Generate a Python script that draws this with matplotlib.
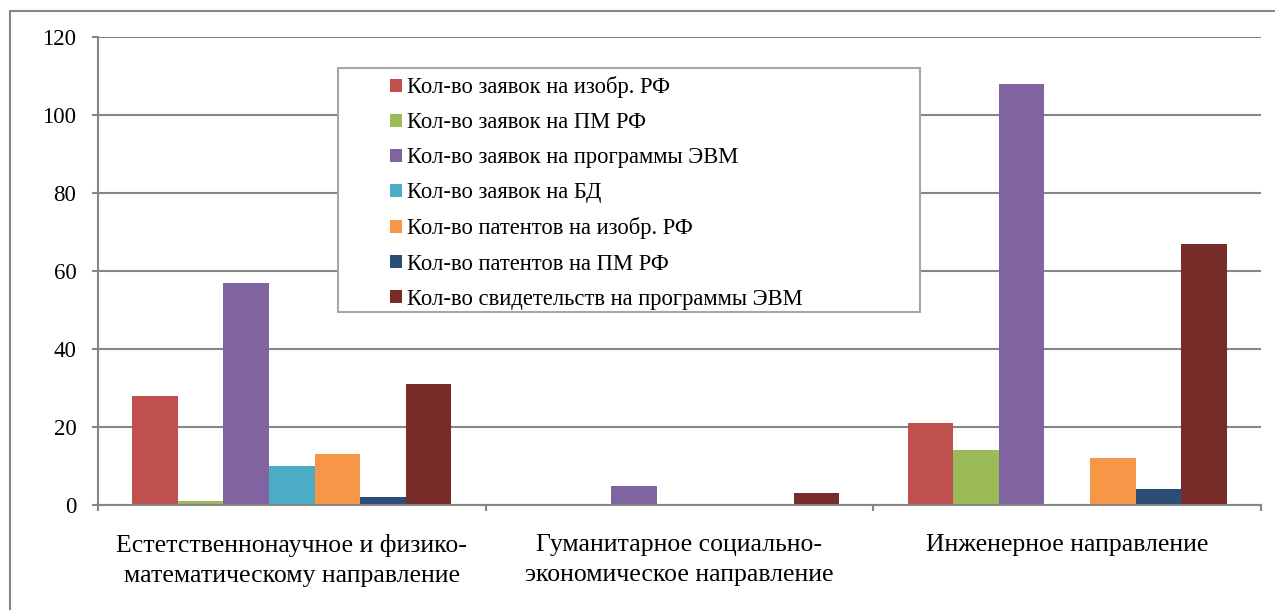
import numpy as np
from matplotlib import pyplot as plt
from matplotlib.patches import Rectangle

categories = ["Естетственнонаучное и физико-\nматематическому направление",
              "Гуманитарное социально-\nэкономическое направление",
              "Инженерное направление"]
series_names = ["Кол-во заявок на изобр. РФ",
                "Кол-во заявок на ПМ РФ",
                "Кол-во заявок на программы ЭВМ",
                "Кол-во заявок на БД",
                "Кол-во патентов на изобр. РФ",
                "Кол-во патентов на ПМ РФ",
                "Кол-во свидетельств на программы ЭВМ"]
values = [
    [28, 0, 21],
    [1, 0, 14],
    [57, 5, 108],
    [10, 0, 0],
    [13, 0, 12],
    [2, 0, 4],
    [31, 3, 67],
]
colors = ["#C0504D", "#9BBB59", "#8064A2", "#4BACC6",
          "#F79646", "#2C4D75", "#772C2A"]

FONT = "Liberation Serif"
GREY = "#868686"

plt.rcParams['font.family'] = [FONT, 'DejaVu Serif']

fig = plt.figure(figsize=(12.75, 6.1), dpi=100)
ax = fig.add_axes([98 / 1275, 1 - 505 / 610, 1163 / 1275, 468 / 610])

n = len(series_names)
bar_w = 1 / (n + 1.5)
x = np.arange(len(categories))
for i in range(n):
    offset = (i - (n - 1) / 2) * bar_w
    ax.bar(x + offset, values[i], bar_w, color=colors[i],
           label=series_names[i], zorder=3)

ax.set_xlim(-0.5, len(categories) - 0.5)
ax.set_ylim(0, 120)
ax.set_yticks(range(0, 121, 20))
ax.set_xticks(np.arange(-0.5, len(categories), 1.0))
ax.set_xticklabels([])
ax.set_xticks(x, minor=True)
ax.set_xticklabels(categories, minor=True, fontsize=18.5, linespacing=1.45)
ax.tick_params(axis='x', which='minor', length=0, pad=21)
ax.tick_params(axis='x', which='major', length=4.5, width=1.5, color=GREY,
               direction='out')
ax.tick_params(axis='y', length=4.5, width=1.5, color=GREY, labelsize=16.5,
               pad=11)

ax.grid(axis='y', color=GREY, linewidth=1.5, zorder=0)
for s in ['top', 'right']:
    ax.spines[s].set_visible(False)
for s in ['left', 'bottom']:
    ax.spines[s].set_color(GREY)
    ax.spines[s].set_linewidth(1.5)
    ax.spines[s].set_zorder(4)

# legend with a separate white box behind it
box = Rectangle((338 / 1275, 1 - 312 / 610), 582 / 1275, 244 / 610,
                transform=fig.transFigure, facecolor='white',
                edgecolor='#A6A6A6', linewidth=1.5, zorder=5)
fig.add_artist(box)
leg = fig.legend(loc='upper left', bbox_to_anchor=(379 / 1275, 1 - 65 / 610),
                 frameon=False, fontsize=16.3, handlelength=0.5,
                 handleheight=0.5, handletextpad=0.22, labelspacing=0.62,
                 borderpad=0)
leg.set_zorder(6)

# outer chart border
fig.add_artist(Rectangle((10 / 1275, -0.1), 1.2, 1.1 - 11 / 610,
                         transform=fig.transFigure, facecolor='none',
                         edgecolor=GREY, linewidth=1.5))

fig.savefig("out.png", dpi=100)
